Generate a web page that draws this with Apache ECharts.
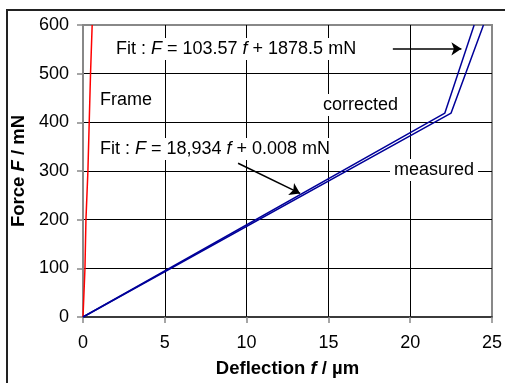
<!DOCTYPE html>
<html>
<head>
<meta charset="utf-8">
<script src="https://cdn.jsdelivr.net/npm/echarts@6/dist/echarts.min.js"></script>
<style>
  html, body { margin: 0; padding: 0; background: #fff; }
  #chart { width: 505px; height: 383px; }
</style>
</head>
<body>
<div id="chart"></div>
<script>
  // 数据
  const frameData = [[0, 0], [0.12, 100], [0.18, 200], [0.3, 300], [0.38, 400], [0.46, 500], [0.56, 600]];
  const correctedData = [[0, 0], [22.12, 419], [23.91, 600]];
  const measuredData = [[0, 0], [22.5, 419], [24.48, 600]];
  const xTicks = [0, 5, 10, 15, 20, 25];
  const yTicks = [0, 100, 200, 300, 400, 500, 600];
  // 箭头（数据坐标）
  const arrowTop = [[18.94, 551], [23.13, 551]];
  const arrowLow = [[9.48, 316], [13.27, 254]];

  const FONT = 'Liberation Sans, Arial, sans-serif';
  const FS = 18;
  const chart = echarts.init(document.getElementById('chart'));

  // 标注文字（白底，遮住网格线）
  function note(x, y, text, rich) {
    return {
      type: 'text',
      x: x,
      y: y,
      z: 1,
      style: {
        text: text,
        fontFamily: FONT,
        fontSize: FS,
        fill: '#000',
        verticalAlign: 'middle',
        backgroundColor: '#fff',
        padding: [2, 4],
        rich: rich || {}
      }
    };
  }
  const it = { fontStyle: 'italic', fontFamily: FONT, fontSize: FS, fill: '#000' };
  const titleRich = {
    b: { fontFamily: FONT, fontWeight: 'bold', fontSize: 18.5, color: '#000' },
    bi: { fontFamily: FONT, fontWeight: 'bold', fontStyle: 'italic', fontSize: 18.5, color: '#000' }
  };

  const option = {
    animation: false,
    grid: {
      left: 83, top: 25, right: 8, bottom: 66,
      show: true, borderColor: '#888', borderWidth: 2, backgroundColor: '#fff'
    },
    xAxis: {
      type: 'value', min: 0, max: 25, interval: 5,
      name: '{b|Deflection }{bi|f}{b| / µm}',
      nameLocation: 'middle', nameGap: 42,
      nameTextStyle: { rich: titleRich },
      axisLine: { lineStyle: { color: '#222', width: 1.5 } },
      axisTick: { length: 6, lineStyle: { color: '#888', width: 1.5 } },
      axisLabel: { fontFamily: FONT, fontSize: FS, color: '#000', margin: 17,
        formatter: function(v) { return xTicks.indexOf(v) >= 0 ? String(v) : ''; } },
      splitLine: { show: true, lineStyle: { color: ['#888', '#000', '#000', '#000', '#000', '#888'], width: 1 } }
    },
    yAxis: {
      type: 'value', min: 0, max: 600, interval: 100,
      name: '{b|Force }{bi|F}{b| / mN}',
      nameLocation: 'middle', nameGap: 51,
      nameTextStyle: { rich: titleRich },
      axisLine: { lineStyle: { color: '#888', width: 2 } },
      axisTick: { length: 6, lineStyle: { color: '#888', width: 1.5 } },
      axisLabel: { fontFamily: FONT, fontSize: FS, color: '#000', margin: 14,
        formatter: function(v) { return yTicks.indexOf(v) >= 0 ? String(v) : ''; } },
      splitLine: { show: true, lineStyle: { color: ['#888', '#000', '#000', '#000', '#000', '#000', '#888'], width: 1 } }
    },
    series: [
      {
        name: 'Frame', type: 'line', data: frameData, showSymbol: false,
        lineStyle: { color: '#ff0000', width: 1.5 }
      },
      {
        name: 'corrected', type: 'line', data: correctedData, showSymbol: false,
        lineStyle: { color: '#000099', width: 1.5 },
        markLine: {
          silent: true, symbol: ['none', 'arrow'], symbolSize: 10,
          label: { show: false },
          lineStyle: { color: '#000', width: 1.5, type: 'solid' },
          data: [
            [{ coord: arrowTop[0] }, { coord: arrowTop[1] }],
            [{ coord: arrowLow[0] }, { coord: arrowLow[1] }]
          ]
        }
      },
      {
        name: 'measured', type: 'line', data: measuredData, showSymbol: false,
        lineStyle: { color: '#000099', width: 1.5 }
      }
    ],
    graphic: [
      {
        type: 'rect', z: 10, silent: true,
        shape: { x: 7, y: 10, width: 520, height: 400 },
        style: { fill: 'none', stroke: '#222', lineWidth: 2 }
      },
      note(112, 49, 'Fit : {i|F} = 103.57 {i|f} + 1878.5 mN', { i: it }),
      note(96, 100, 'Frame'),
      note(96, 149, 'Fit : {i|F} = 18,934 {i|f} + 0.008 mN', { i: it }),
      note(319, 105, 'corrected'),
      note(390, 170, 'measured')
    ]
  };

  chart.setOption(option);
</script>
</body>
</html>
